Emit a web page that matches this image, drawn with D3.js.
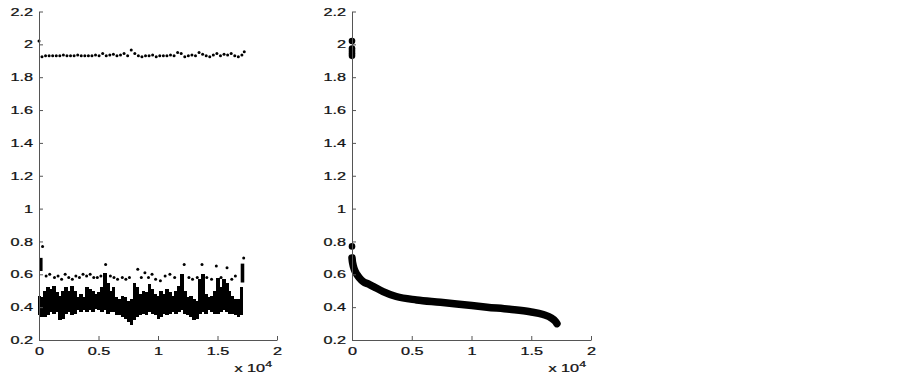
<!DOCTYPE html>
<html>
<head>
<meta charset="utf-8">
<script src="https://cdn.jsdelivr.net/npm/d3@7"></script>
<style>
  body { margin: 0; background: #fff; }
  svg { display: block; }
</style>
</head>
<body>
<svg id="chart" width="903" height="381"></svg>
<script>
// axis ticks (shared by both panels)
var yTicks = [0.2, 0.4, 0.6, 0.8, 1, 1.2, 1.4, 1.6, 1.8, 2, 2.2];
var yLabels = ["0.2", "0.4", "0.6", "0.8", "1", "1.2", "1.4", "1.6", "1.8", "2", "2.2"];
var xTicks = [0, 5000, 10000, 15000, 20000];
var xLabels = ["0", "0.5", "1", "1.5", "2"];

// left panel: upper row of points near 1.93
var topX = [0, 250, 550, 850, 1150, 1450, 1750, 2050, 2350, 2650, 2950, 3250, 3550, 3850, 4150, 4450, 4750, 5050, 5350, 5650,
            5950, 6250, 6550, 6850, 7150, 7450, 7750, 8050, 8350, 8650, 8950, 9250, 9550, 9850, 10150, 10450, 10750, 11050, 11350, 11650,
            11950, 12250, 12550, 12850, 13150, 13450, 13750, 14050, 14350, 14650, 14950, 15250, 15550, 15850, 16150, 16450, 16750, 17050, 17250];
var topY = [2.02, 1.925, 1.93, 1.93, 1.93, 1.93, 1.93, 1.935, 1.93, 1.93, 1.93, 1.935, 1.93, 1.93, 1.93, 1.93, 1.935, 1.93, 1.945, 1.93,
            1.935, 1.94, 1.93, 1.935, 1.945, 1.93, 1.965, 1.945, 1.93, 1.925, 1.93, 1.93, 1.935, 1.925, 1.93, 1.93, 1.93, 1.935, 1.93, 1.95,
            1.945, 1.925, 1.93, 1.935, 1.93, 1.95, 1.94, 1.93, 1.925, 1.935, 1.945, 1.93, 1.94, 1.935, 1.945, 1.93, 1.925, 1.935, 1.955];

// left panel: scattered points around 0.58
var midX = [300, 600, 900, 1300, 1600, 1900, 2200, 2500, 2800, 3100, 3400, 3700, 4000, 4300, 4600, 4900, 5200, 5600, 6000, 6300,
            6600, 7000, 7300, 7600, 8300, 8600, 8900, 9200, 9500, 9800, 10200, 10600, 11000, 11400, 12200, 12600, 12900, 13300, 13700, 14100,
            14500, 14900, 15300, 15800, 16200, 16500, 17200];
var midY = [0.77, 0.59, 0.60, 0.58, 0.59, 0.57, 0.60, 0.58, 0.57, 0.59, 0.58, 0.60, 0.59, 0.60, 0.58, 0.58, 0.59, 0.66, 0.59, 0.58,
            0.57, 0.58, 0.57, 0.58, 0.63, 0.58, 0.61, 0.58, 0.60, 0.57, 0.56, 0.59, 0.60, 0.58, 0.66, 0.58, 0.57, 0.58, 0.66, 0.58,
            0.57, 0.65, 0.58, 0.64, 0.57, 0.59, 0.70];

// left panel: dense cloud, per 250-sample slice (low / high edge)
var cloudX = [0, 250, 500, 750, 1000, 1250, 1500, 1750, 2000, 2250, 2500, 2750, 3000, 3250, 3500, 3750, 4000, 4250, 4500, 4750,
              5000, 5250, 5500, 5750, 6000, 6250, 6500, 6750, 7000, 7250, 7500, 7750, 8000, 8250, 8500, 8750, 9000, 9250, 9500, 9750,
              10000, 10250, 10500, 10750, 11000, 11250, 11500, 11750, 12000, 12250, 12500, 12750, 13000, 13250, 13500, 13750, 14000, 14250, 14500, 14750,
              15000, 15250, 15500, 15750, 16000, 16250, 16500, 16750, 17000];
var cloudLo = [0.35, 0.34, 0.34, 0.35, 0.37, 0.36, 0.37, 0.32, 0.33, 0.36, 0.37, 0.35, 0.36, 0.38, 0.37, 0.38, 0.37, 0.38, 0.37, 0.39,
               0.38, 0.37, 0.38, 0.36, 0.37, 0.37, 0.35, 0.35, 0.34, 0.33, 0.31, 0.29, 0.32, 0.34, 0.35, 0.36, 0.35, 0.37, 0.36, 0.35,
               0.33, 0.34, 0.36, 0.35, 0.36, 0.37, 0.36, 0.37, 0.38, 0.36, 0.35, 0.34, 0.32, 0.33, 0.36, 0.37, 0.36, 0.38, 0.37, 0.36,
               0.36, 0.37, 0.38, 0.37, 0.36, 0.36, 0.35, 0.34, 0.35];
var cloudHi = [0.47, 0.46, 0.50, 0.52, 0.51, 0.53, 0.49, 0.47, 0.50, 0.52, 0.50, 0.53, 0.50, 0.46, 0.48, 0.46, 0.52, 0.51, 0.50, 0.48,
               0.49, 0.52, 0.61, 0.55, 0.50, 0.52, 0.46, 0.45, 0.47, 0.46, 0.44, 0.45, 0.55, 0.52, 0.48, 0.50, 0.49, 0.54, 0.51, 0.48,
               0.47, 0.50, 0.48, 0.51, 0.49, 0.47, 0.50, 0.53, 0.60, 0.50, 0.46, 0.47, 0.45, 0.44, 0.57, 0.60, 0.48, 0.46, 0.47, 0.50,
               0.58, 0.52, 0.57, 0.55, 0.50, 0.47, 0.45, 0.45, 0.52];
var cloudStep = 250;
// two tight clusters at the start and the end of the left panel: [x0, x1, yLow, yHigh]
var clusterStart = [0, 300, 0.62, 0.70];
var clusterEnd = [16950, 17250, 0.55, 0.665];

// right panel: sorted curve
var curveX = [0, 30, 80, 150, 250, 400, 600, 950, 1400, 1800, 2600, 3700, 5400, 7400, 9600, 11300, 13200, 14900, 16000, 16700, 17000, 17150];
var curveY = [0.70, 0.68, 0.66, 0.64, 0.62, 0.60, 0.58, 0.555, 0.54, 0.525, 0.495, 0.465, 0.444, 0.43, 0.413, 0.40, 0.387, 0.372, 0.355, 0.333, 0.315, 0.30];
// right panel: the few largest values at index 0
var outX = [0, 0, 0, 0, 0, 0];
var outY = [2.02, 1.975, 1.96, 1.945, 1.93, 0.77];

var svg = d3.select("#chart");
var stretch = 1.45; // the tick labels in the picture are stretched sideways
var fontSize = 11.2;
var yTop = 11.5, yBottom = 340;

var panels = [
    { left: 39, right: 277 },
    { left: 352, right: 591 }
];

function makeScales(p) {
    return {
        x: d3.scaleLinear().domain([0, 20000]).range([p.left, p.right]),
        y: d3.scaleLinear().domain([0.2, 2.2]).range([yBottom, yTop])
    };
}

function drawAxes(p, s) {
    var yAxis = d3.axisLeft(s.y)
        .tickValues(yTicks)
        .tickFormat(function (d, i) { return yLabels[i]; })
        .tickSizeInner(-4)
        .tickSizeOuter(0)
        .tickPadding(6);
    var xAxis = d3.axisBottom(s.x)
        .tickValues(xTicks)
        .tickFormat(function (d, i) { return xLabels[i]; })
        .tickSizeInner(-4)
        .tickSizeOuter(0)
        .tickPadding(6);

    var gy = svg.append("g")
        .attr("transform", "translate(" + p.left + ",0)")
        .call(yAxis);
    var gx = svg.append("g")
        .attr("transform", "translate(0," + yBottom + ")")
        .call(xAxis);

    [gx, gy].forEach(function (g) {
        g.attr("font-family", "'Liberation Sans', Arial, sans-serif")
            .attr("font-size", fontSize);
        g.select(".domain").attr("stroke", "#555");
        g.selectAll(".tick line").attr("stroke", "#555");
        g.selectAll(".tick text").attr("fill", "#111")
            .attr("stroke", "#111").attr("stroke-width", 0.25);
    });
    gy.selectAll(".tick text")
        .attr("x", -6 / stretch)
        .attr("transform", "scale(" + stretch + ",1)");
    gx.selectAll(".tick text")
        .attr("y", 15.5)
        .attr("dy", 0)
        .attr("transform", "scale(" + stretch + ",1)");

    // "x 10^4" multiplier under the x axis
    var lab = svg.append("text")
        .attr("font-family", "'Liberation Sans', Arial, sans-serif")
        .attr("font-size", fontSize)
        .attr("fill", "#111")
        .attr("stroke", "#111").attr("stroke-width", 0.25)
        .attr("text-anchor", "end")
        .attr("transform", "translate(" + (p.right - 5) + ",372) scale(" + stretch + ",1)");
    lab.append("tspan").text("x 10");
    lab.append("tspan").attr("dy", -5).attr("font-size", 8.5).text("4");
}

// ---- left panel ----
var sL = makeScales(panels[0]);
var left = svg.append("g");
var slice = sL.x(cloudStep) - sL.x(0);

left.append("g")
    .attr("shape-rendering", "crispEdges")
    .selectAll("rect")
    .data(cloudX)
    .enter()
    .append("rect")
    .attr("x", function (d) { return sL.x(d) - slice / 2; })
    .attr("width", slice + 0.6)
    .attr("y", function (d, i) { return sL.y(cloudHi[i]); })
    .attr("height", function (d, i) { return sL.y(cloudLo[i]) - sL.y(cloudHi[i]); })
    .attr("fill", "#000");

[clusterStart, clusterEnd].forEach(function (c) {
    left.append("rect")
        .attr("x", sL.x(c[0]))
        .attr("width", sL.x(c[1]) - sL.x(c[0]))
        .attr("y", sL.y(c[3]))
        .attr("height", sL.y(c[2]) - sL.y(c[3]))
        .attr("fill", "#000");
});

left.selectAll("circle.mid")
    .data(midX)
    .enter()
    .append("circle")
    .attr("class", "mid")
    .attr("cx", function (d) { return sL.x(d); })
    .attr("cy", function (d, i) { return sL.y(midY[i]); })
    .attr("r", 1.5)
    .attr("fill", "#000");

left.selectAll("circle.top")
    .data(topX)
    .enter()
    .append("circle")
    .attr("class", "top")
    .attr("cx", function (d) { return sL.x(d); })
    .attr("cy", function (d, i) { return sL.y(topY[i]); })
    .attr("r", 1.5)
    .attr("fill", "#000");

drawAxes(panels[0], sL);

// ---- right panel ----
var sR = makeScales(panels[1]);
var right = svg.append("g");

var line = d3.line()
    .x(function (d) { return sR.x(d); })
    .y(function (d, i) { return sR.y(curveY[i]); })
    .curve(d3.curveMonotoneX);

right.append("path")
    .attr("d", line(curveX))
    .attr("fill", "none")
    .attr("stroke", "#000")
    .attr("stroke-width", 7.5)
    .attr("stroke-linecap", "round")
    .attr("stroke-linejoin", "round");

right.selectAll("circle.out")
    .data(outX)
    .enter()
    .append("circle")
    .attr("class", "out")
    .attr("cx", function (d) { return sR.x(d); })
    .attr("cy", function (d, i) { return sR.y(outY[i]); })
    .attr("r", 3.3)
    .attr("fill", "#000");

drawAxes(panels[1], sR);
</script>
</body>
</html>
